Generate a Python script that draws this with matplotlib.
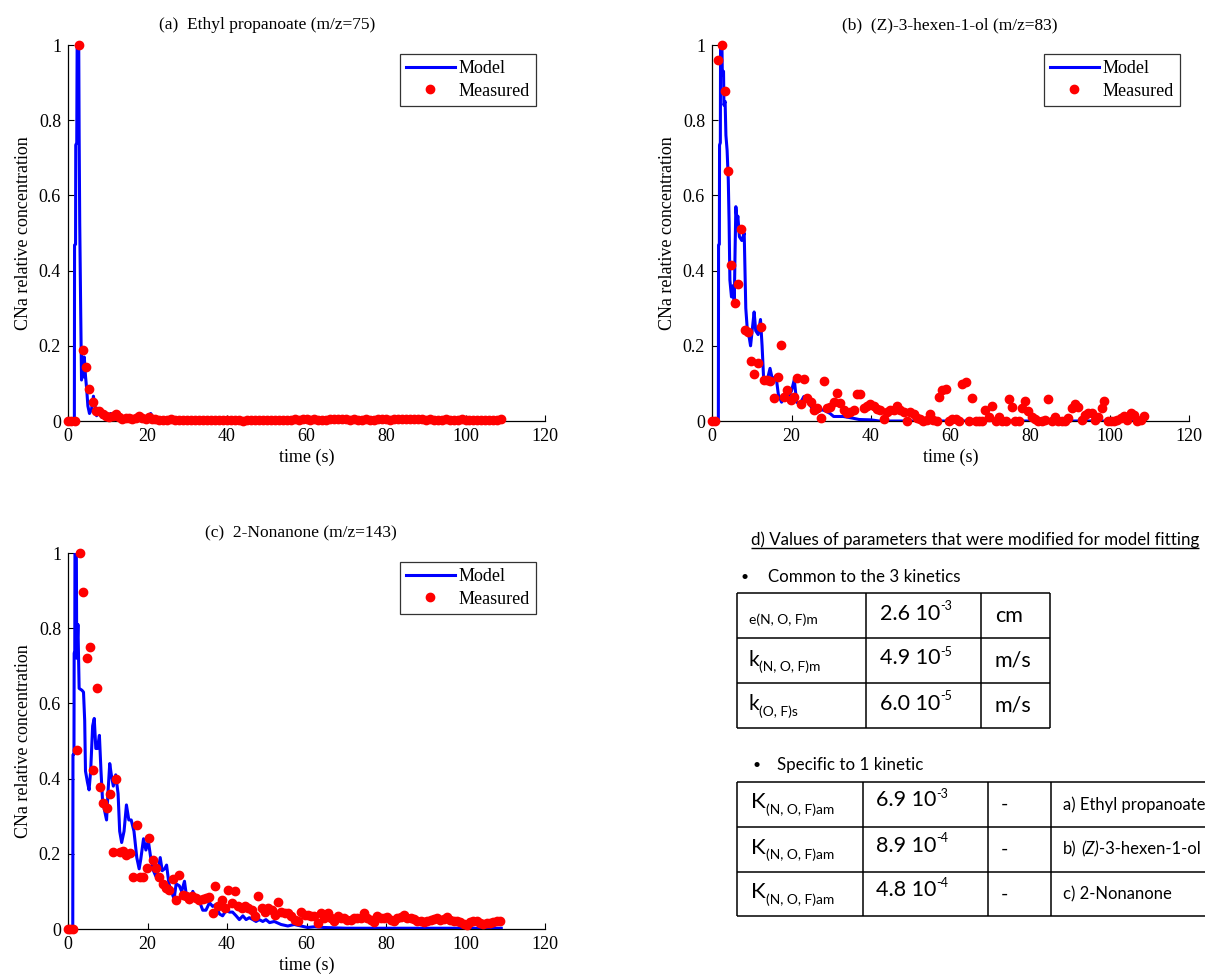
import matplotlib
matplotlib.use("Agg")
import matplotlib.pyplot as plt

plt.rcParams["font.family"] = ["Liberation Serif", "DejaVu Serif"]

# ---- (a) Ethyl propanoate (m/z=75) ----
t_model_a = [0.0, 1.6, 1.65, 1.9, 1.95, 2.2, 2.3, 2.7, 2.8, 2.95, 3.2, 3.4, 3.6, 3.9,
             4.1, 4.4, 4.7, 5.0, 5.4, 5.9, 6.4, 6.8, 7.2, 7.8, 8.5, 9.0, 9.8, 10.7,
             11.5, 14.5, 17.0, 20.0, 20.8, 21.7, 25.0, 30.0, 40.0, 109.0]
y_model_a = [0.0, 0.0, 0.468, 0.47, 0.734, 0.74, 1.0, 1.0, 0.765, 0.526, 0.287, 0.109, 0.171, 0.117,
             0.17, 0.12, 0.085, 0.04, 0.02, 0.03, 0.066, 0.04, 0.014, 0.03, 0.01, 0.01, 0.005, 0.02,
             0.005, 0.004, 0.004, 0.006, 0.02, 0.004, 0.002, 0.001, 0.0, 0.0]
t_meas_a = [0.0, 0.8, 1.7, 2.8, 3.7, 4.5, 5.4, 6.2, 7.0, 7.9,
            8.7, 9.5, 10.4, 11.2, 12.0, 12.8, 13.7, 14.5, 15.3, 16.2,
            17.0, 17.8, 18.7, 19.5, 20.3, 21.2, 22.0, 22.9,
            24, 25, 26, 27, 28, 29, 30, 31, 32, 33,
            34, 35, 36, 37, 38, 39, 40, 41, 42, 43,
            44, 45, 46, 47, 48, 49, 50, 51, 52, 53,
            54, 55, 56, 57, 58, 59, 60, 61, 62, 63,
            64, 65, 66, 67, 68, 69, 70, 71, 72, 73,
            74, 75, 76, 77, 78, 79, 80, 81, 82, 83,
            84, 85, 86, 87, 88, 89, 90, 91, 92, 93,
            94, 95, 96, 97, 98, 99, 100, 101, 102, 103,
            104, 105, 106, 107, 108, 109]
y_meas_a = [0.0, 0.0, 0.0, 1.0, 0.19, 0.143, 0.085, 0.051, 0.027, 0.027,
            0.018, 0.012, 0.01, 0.012, 0.018, 0.01, 0.006, 0.007, 0.008, 0.006,
            0.007, 0.014, 0.007, 0.006, 0.01, 0.005, 0.004, 0.003,
            0.003, 0.002, 0.004, 0.003, 0.002, 0.003, 0.002, 0.003, 0.002, 0.003,
            0.002, 0.003, 0.002, 0.002, 0.003, 0.002, 0.003, 0.002, 0.002, 0.003,
            0.001, 0.002, 0.003, 0.002, 0.003, 0.002, 0.003, 0.002, 0.003, 0.002,
            0.003, 0.002, 0.003, 0.004, 0.003, 0.005, 0.004, 0.003, 0.004, 0.003,
            0.002, 0.003, 0.004, 0.005, 0.006, 0.004, 0.005, 0.003, 0.004, 0.003,
            0.003, 0.004, 0.003, 0.002, 0.004, 0.005, 0.004, 0.003, 0.004, 0.005,
            0.006, 0.005, 0.004, 0.005, 0.006, 0.004, 0.003, 0.004, 0.003, 0.002,
            0.003, 0.004, 0.003, 0.002, 0.003, 0.004, 0.003, 0.002, 0.003, 0.002,
            0.003, 0.002, 0.003, 0.002, 0.003, 0.004]

# ---- (b) (Z)-3-hexen-1-ol (m/z=83) ----
t_model_b = [0.0, 1.6, 1.65, 1.85, 1.9, 2.1, 2.15, 2.5, 2.6, 2.9, 3.0, 3.3, 3.5, 3.8,
             4.1, 4.3, 4.5, 4.9, 5.3, 5.6, 5.8, 6.0, 6.3, 6.5, 6.9, 7.5, 7.8, 8.1,
             8.5, 8.9, 9.4, 9.7, 10.2, 10.6, 11.0, 11.6, 12.2, 12.6, 13.0, 13.7, 14.6, 15.2,
             16.1, 16.7, 17.5, 18.3, 19.2, 20.0, 20.7, 21.3, 22.1, 23.1, 24.2, 25.1, 25.9, 26.8,
             27.6, 28.5, 29.7, 30.6, 33.0, 35.2, 37.0, 40.0, 42.0, 109.0]
y_model_b = [0.0, 0.0, 0.468, 0.47, 0.734, 0.74, 1.0, 1.0, 0.92, 0.93, 0.84, 0.85, 0.76, 0.72,
             0.64, 0.53, 0.375, 0.33, 0.36, 0.313, 0.45, 0.57, 0.53, 0.545, 0.49, 0.48, 0.49, 0.5,
             0.3, 0.24, 0.22, 0.2, 0.25, 0.29, 0.24, 0.23, 0.27, 0.2, 0.11, 0.1, 0.14, 0.11,
             0.12, 0.07, 0.05, 0.07, 0.065, 0.08, 0.11, 0.05, 0.045, 0.065, 0.05, 0.035, 0.02, 0.025,
             0.03, 0.027, 0.02, 0.012, 0.012, 0.008, 0.004, 0.003, 0.0, 0.0]
t_meas_b = [0.0, 0.8, 1.6, 2.4, 3.3, 4.1, 4.9, 5.7, 6.6, 7.4,
            8.2, 9.1, 9.8, 10.6, 11.5, 12.3, 13.1, 13.9, 14.7, 15.7,
            16.5, 17.4, 18.1, 18.9, 19.8, 20.6, 21.5, 22.3, 23.1, 24.0,
            24.8, 25.7, 26.5, 27.3, 28.2, 29.0, 29.8, 30.7, 31.5, 32.3,
            33.2, 34.0, 34.8, 35.7, 36.5, 37.3, 38.2, 39.0, 39.8, 40.7,
            41.5, 42.3, 43.2, 44.0, 44.8, 45.7, 46.5, 47.3, 48.2, 49.0,
            49.8, 50.7, 51.5, 52.3, 53.2, 54.0, 54.8, 55.7, 56.5, 57.1,
            57.9, 58.8, 59.6, 60.4, 61.3, 62.1, 63.0, 63.8, 64.6, 65.5,
            66.3, 67.2, 68.0, 68.8, 69.7, 70.5, 71.4, 72.2, 73.0, 73.9,
            74.6, 75.5, 76.3, 77.2, 78.0, 78.8, 79.6, 80.5, 81.3, 82.1,
            83.0, 83.8, 84.6, 85.5, 86.3, 87.1, 88.0, 88.8, 89.6, 90.5,
            91.3, 92.2, 93.0, 93.8, 94.7, 95.5, 96.3, 97.2, 98.0, 98.7,
            99.5, 100.3, 101.2, 102.0, 102.8, 103.7, 104.5, 105.3, 106.2, 107.0,
            107.8, 108.7]
y_meas_b = [0.0, 0.0, 0.96, 1.0, 0.878, 0.666, 0.414, 0.315, 0.364, 0.51,
            0.242, 0.236, 0.16, 0.124, 0.153, 0.25, 0.109, 0.109, 0.107, 0.06,
            0.118, 0.202, 0.065, 0.082, 0.056, 0.065, 0.115, 0.044, 0.112, 0.062,
            0.051, 0.029, 0.035, 0.007, 0.106, 0.035, 0.037, 0.05, 0.075, 0.047,
            0.03, 0.02, 0.025, 0.03, 0.072, 0.072, 0.034, 0.04, 0.045, 0.04,
            0.033, 0.03, 0.005, 0.025, 0.03, 0.03, 0.04, 0.03, 0.025, 0.0,
            0.025, 0.018, 0.008, 0.004, 0.0, 0.003, 0.018, 0.002, 0.0, 0.065,
            0.082, 0.085, 0.0, 0.005, 0.005, 0.0, 0.098, 0.105, 0.0, 0.06,
            0.0, 0.0, 0.0, 0.03, 0.01, 0.039, 0.0, 0.01, 0.0, 0.0,
            0.058, 0.038, 0.0, 0.0, 0.034, 0.054, 0.026, 0.011, 0.004, 0.0,
            0.0, 0.003, 0.058, 0.0, 0.01, 0.0, 0.0, 0.0, 0.008, 0.034,
            0.045, 0.037, 0.003, 0.015, 0.02, 0.02, 0.003, 0.011, 0.034, 0.054,
            0.0, 0.0, 0.0, 0.003, 0.008, 0.014, 0.003, 0.022, 0.015, 0.0,
            0.003, 0.012]

# ---- (c) 2-Nonanone (m/z=143) ----
t_model_c = [0.0, 1.2, 1.25, 1.5, 1.55, 1.7, 1.75, 2.1, 2.2, 2.5, 2.8, 3.5, 3.9, 4.2,
             4.4, 4.9, 5.3, 5.7, 6.2, 6.6, 7.0, 7.4, 7.9, 8.3, 8.7, 9.1, 9.7, 10.1,
             10.5, 10.9, 11.4, 12.0, 12.6, 13.0, 13.5, 14.1, 14.7, 15.3, 15.9, 16.6, 17.3, 17.9,
             18.3, 19.0, 19.6, 20.2, 20.8, 21.5, 22.1, 22.7, 23.2, 23.7, 24.3, 24.8, 25.4, 26.0,
             26.7, 27.2, 28.0, 28.6, 29.3, 29.9, 30.6, 31.4, 32.2, 33.0, 33.9, 34.7, 35.6, 36.4,
             37.2, 38.1, 38.9, 39.8, 40.6, 41.4, 42.3, 43.1, 44.0, 44.8, 45.6, 46.5, 47.3, 48.1,
             49.0, 49.8, 50.7, 51.9, 53.6, 55.3, 56.9, 58.6, 60.3, 62.0, 64.5, 70.0, 109.0]
y_model_c = [0.0, 0.0, 0.463, 0.465, 0.733, 0.74, 1.0, 1.0, 0.72, 0.81, 0.64, 0.635, 0.63, 0.554,
             0.42, 0.39, 0.37, 0.42, 0.54, 0.56, 0.48, 0.48, 0.515, 0.42, 0.34, 0.32, 0.29, 0.37,
             0.44, 0.41, 0.38, 0.41, 0.36, 0.26, 0.23, 0.26, 0.33, 0.29, 0.29, 0.26, 0.19, 0.16,
             0.185, 0.24, 0.21, 0.235, 0.19, 0.155, 0.14, 0.16, 0.19, 0.155, 0.16, 0.17, 0.12, 0.1,
             0.08, 0.12, 0.115, 0.1, 0.127, 0.08, 0.07, 0.1, 0.08, 0.075, 0.05, 0.05, 0.07, 0.06,
             0.065, 0.04, 0.035, 0.05, 0.045, 0.045, 0.035, 0.025, 0.035, 0.025, 0.03, 0.025, 0.02, 0.025,
             0.02, 0.025, 0.017, 0.02, 0.012, 0.008, 0.012, 0.008, 0.004, 0.006, 0.004, 0.002, 0.002]
t_meas_c = [0.0, 0.5, 1.3, 2.2, 3.0, 3.85, 4.7, 5.5, 6.4, 7.2,
            8.05, 8.9, 9.7, 10.6, 11.4, 12.2, 13.1, 13.9, 14.7, 15.6,
            16.4, 17.3, 18.1, 18.9, 19.8, 20.5, 21.3, 22.1, 22.9, 23.8,
            24.6, 25.5, 26.3, 27.2, 28.0, 28.9, 29.7, 30.5, 31.3, 32.2,
            33.0, 33.9, 34.7, 35.5, 36.4, 37.0, 37.8, 38.7, 39.5, 40.3,
            41.2, 42.0, 42.8, 43.7, 44.5, 45.3, 46.2, 47.0, 47.8, 48.7,
            49.5, 50.3, 51.2, 52.0, 52.8, 53.7, 54.5, 55.3, 56.2, 57.0,
            57.8, 58.7, 59.5, 60.3, 61.2, 62.0, 62.8, 63.7, 64.5, 65.3,
            66.2, 67.0, 67.8, 68.7, 69.5, 70.3, 71.2, 72.0, 72.8, 73.7,
            74.5, 75.3, 76.2, 77.0, 77.8, 78.7, 79.5, 80.3, 81.2, 82.0,
            82.8, 83.7, 84.5, 85.3, 86.2, 87.0, 87.8, 88.7, 89.5, 90.3,
            91.2, 92.0, 92.8, 93.7, 94.5, 95.3, 96.2, 97.0, 97.8, 98.7,
            99.5, 100.3, 101.2, 102.0, 102.8, 103.7, 104.5, 105.3, 106.2, 107.0,
            107.8, 108.6]
y_meas_c = [0.0, 0.0, 0.0, 0.476, 1.0, 0.897, 0.722, 0.749, 0.423, 0.64,
            0.377, 0.336, 0.321, 0.359, 0.206, 0.399, 0.205, 0.207, 0.198, 0.203,
            0.139, 0.277, 0.139, 0.139, 0.161, 0.241, 0.183, 0.161, 0.137, 0.12,
            0.11, 0.105, 0.133, 0.077, 0.144, 0.091, 0.087, 0.08, 0.087, 0.083,
            0.078, 0.08, 0.083, 0.085, 0.043, 0.115, 0.06, 0.078, 0.055, 0.105,
            0.07, 0.1, 0.06, 0.055, 0.06, 0.055, 0.05, 0.035, 0.087, 0.055,
            0.046, 0.055, 0.05, 0.037, 0.073, 0.046, 0.042, 0.042, 0.034, 0.025,
            0.02, 0.046, 0.037, 0.037, 0.034, 0.035, 0.016, 0.042, 0.03, 0.042,
            0.03, 0.02, 0.034, 0.03, 0.03, 0.025, 0.025, 0.03, 0.03, 0.028,
            0.042, 0.03, 0.025, 0.018, 0.035, 0.03, 0.028, 0.031, 0.025, 0.02,
            0.028, 0.033, 0.036, 0.03, 0.028, 0.027, 0.022, 0.02, 0.018, 0.022,
            0.025, 0.027, 0.028, 0.024, 0.027, 0.033, 0.025, 0.022, 0.022, 0.018,
            0.012, 0.01, 0.018, 0.022, 0.02, 0.016, 0.013, 0.016, 0.017, 0.018,
            0.02, 0.02]

TITLES = ["(a)  Ethyl propanoate (m/z=75)",
          "(b)  (Z)-3-hexen-1-ol (m/z=83)",
          "(c)  2-Nonanone (m/z=143)"]
X_TICKS = [0, 20, 40, 60, 80, 100, 120]
Y_TICKS = [0, 0.2, 0.4, 0.6, 0.8, 1.0]
Y_TICK_LABELS = ["0", "0.2", "0.4", "0.6", "0.8", "1"]

# ---- d) parameter tables ----
TABLE_TITLE = "d) Values of parameters that were modified for model fitting"
COMMON_HEAD = "Common to the 3 kinetics"
COMMON_SYM = ["e(N, O, F)m", "k", "k"]
COMMON_SUB = ["", "(N, O, F)m", "(O, F)s"]
COMMON_MANT = ["2.6 10", "4.9 10", "6.0 10"]
COMMON_EXP = ["-3", "-5", "-5"]
COMMON_UNIT = ["cm", "m/s", "m/s"]
SPEC_HEAD = "Specific to 1 kinetic"
SPEC_SYM = ["K", "K", "K"]
SPEC_SUB = ["(N, O, F)am", "(N, O, F)am", "(N, O, F)am"]
SPEC_MANT = ["6.9 10", "8.9 10", "4.8 10"]
SPEC_EXP = ["-3", "-4", "-4"]
SPEC_UNIT = ["-", "-", "-"]
SPEC_NAME = ["a) Ethyl propanoate", "b) (Z)-3-hexen-1-ol", "c) 2-Nonanone"]

W, H = 1205, 976
fig = plt.figure(figsize=(W / 100, H / 100), dpi=100)

panels = [
    (t_model_a, y_model_a, t_meas_a, y_meas_a, [68, 45], 0.417),
    (t_model_b, y_model_b, t_meas_b, y_meas_b, [712, 45], 0.499),
    (t_model_c, y_model_c, t_meas_c, y_meas_c, [68, 553], 0.489),
]
for i, (tm, ym, ts, ys, (px, py), tx) in enumerate(panels):
    ax = fig.add_axes([px / W, 1 - (py + 376) / H, 477 / W, 376 / H])
    ax.plot(tm, ym, color="#0000ff", lw=2.2, label="Model", zorder=2)
    ax.plot(ts, ys, "o", color="#ff0000", mec="#ff0000", ms=6, label="Measured",
            clip_on=False, zorder=3)
    ax.set_xlim(0, 120)
    ax.set_ylim(0, 1)
    ax.set_xticks(X_TICKS)
    ax.set_yticks(Y_TICKS)
    ax.set_yticklabels(Y_TICK_LABELS)
    for s in ["top", "right"]:
        ax.spines[s].set_visible(False)
    for s in ["left", "bottom"]:
        ax.spines[s].set_linewidth(0.9)
    ax.tick_params(direction="in", length=4, width=0.8, labelsize=13, pad=5)
    ax.set_xlabel("time (s)", fontsize=13, labelpad=3)
    ax.set_ylabel("CNa relative concentration", fontsize=13, labelpad=5)
    ax.text(tx, 1.053, TITLES[i], transform=ax.transAxes, ha="center", va="center",
            fontsize=12.5)
    leg = ax.legend(loc="upper right", numpoints=1, fancybox=False, fontsize=13,
                    handlelength=2.7, borderpad=0.35, labelspacing=0.3,
                    handletextpad=0.2, borderaxespad=0.5)
    leg.get_frame().set_edgecolor("black")
    leg.get_frame().set_linewidth(0.9)

# panel d drawn in pixel coordinates
axd = fig.add_axes([0, 0, 1, 1], zorder=-1)
axd.set_xlim(0, W)
axd.set_ylim(H, 0)
axd.axis("off")
sans = "Lato"
kw = dict(family=sans, color="black")

title_txt = axd.text(751, 540, TABLE_TITLE, fontsize=12.2, va="center", ha="left", **kw)
axd.text(740, 577, "\u2022", fontsize=10, va="center", ha="left", **kw)
axd.text(768, 577, COMMON_HEAD, fontsize=12.2, va="center", ha="left", **kw)
axd.text(753, 765, "\u2022", fontsize=10, va="center", ha="left", **kw)
axd.text(777, 765, SPEC_HEAD, fontsize=12.2, va="center", ha="left", **kw)


def with_script(x, y, main, small, big, little, up):
    t = axd.text(x, y, main, fontsize=big, va="center", ha="left", **kw)
    if small:
        fy = 0.85 if up else 0.12
        axd.annotate(small, xy=(1, fy), xycoords=t, va="center", ha="left",
                     fontsize=little, **kw)
    return t


# table 1
rows1 = [593, 638, 683, 728]
cols1 = [737, 866, 981, 1050]
axd.hlines(rows1, cols1[0], cols1[-1], color="black", lw=1.1)
axd.vlines(cols1, rows1[0], rows1[-1], color="black", lw=1.1)
for r in range(3):
    yc = (rows1[r] + rows1[r + 1]) / 2
    if COMMON_SUB[r]:
        with_script(748, yc - 1, COMMON_SYM[r], COMMON_SUB[r], 15, 10, False)
    else:
        axd.text(749, yc + 4, COMMON_SYM[r], fontsize=10, va="center", ha="left", **kw)
    with_script(880, yc - 2, COMMON_MANT[r], COMMON_EXP[r], 15.5, 9, True)
    axd.text(995, yc, COMMON_UNIT[r], fontsize=15.5, va="center", ha="left", **kw)

# table 2
rows2 = [782, 827, 872, 916]
cols2 = [737, 863, 988, 1051, 1215]
axd.hlines(rows2, cols2[0], cols2[-1], color="black", lw=1.1)
axd.vlines(cols2, rows2[0], rows2[-1], color="black", lw=1.1)
for r in range(3):
    yc = (rows2[r] + rows2[r + 1]) / 2
    with_script(751, yc - 2, SPEC_SYM[r], SPEC_SUB[r], 16, 10, False)
    with_script(876, yc - 4, SPEC_MANT[r], SPEC_EXP[r], 15.5, 9, True)
    axd.text(1001, yc, SPEC_UNIT[r], fontsize=14, va="center", ha="left", **kw)
    name = SPEC_NAME[r]
    if "(Z)" in name:
        pre, post = name.split("(Z)")
        t1 = axd.text(1063, yc, pre.strip(), fontsize=12, va="center", ha="left", **kw)
        t2 = axd.annotate("(Z)", xy=(1, 0.5), xycoords=t1, xytext=(3.5, 0),
                          textcoords="offset points", va="center", ha="left",
                          fontsize=12, style="italic", **kw)
        axd.annotate(post, xy=(1, 0.5), xycoords=t2, va="center", ha="left",
                     fontsize=12, **kw)
    else:
        axd.text(1063, yc, name, fontsize=12, va="center", ha="left", **kw)

# underline the d) title
fig.canvas.draw()
bb = title_txt.get_window_extent(fig.canvas.get_renderer())
x0 = axd.transData.inverted().transform((bb.x0, bb.y0))[0]
x1 = axd.transData.inverted().transform((bb.x1, bb.y0))[0]
axd.hlines(548, x0, x1, color="black", lw=1.0)

fig.savefig("out.png", dpi=100)
